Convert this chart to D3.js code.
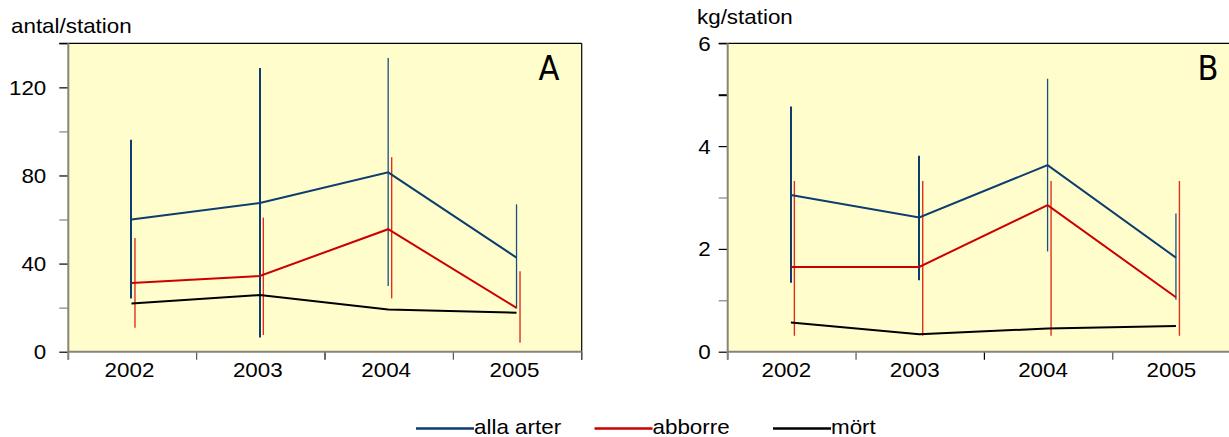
<!DOCTYPE html>
<html>
<head>
<meta charset="utf-8">
<script src="https://cdn.jsdelivr.net/npm/d3@7"></script>
<style>
  html, body { margin: 0; padding: 0; background: #fff; }
  svg { display: block; }
  text { font-family: 'Liberation Sans', Arial, Helvetica, sans-serif; fill: #000; }
  text.letter { font-family: 'DejaVu Sans Condensed', 'DejaVu Sans', sans-serif; font-stretch: condensed; }
</style>
</head>
<body>
<svg id="chart" width="1229" height="437"></svg>
<script>
// Years on the x axis
const years = ["2002", "2003", "2004", "2005"];

// Panel A – number of fish per station (mean with error range)
const allaA      = [60.0, 67.5, 81.4, 42.7];
const allaA_lo   = [24.2, 6.5, 29.8, 19.6];
const allaA_hi   = [96.2, 128.8, 133.3, 66.9];
const abborreA   = [31.2, 34.4, 55.6, 19.9];
const abborreA_lo = [10.9, 7.6, 24.2, 4.1];
const abborreA_hi = [51.6, 60.9, 88.3, 36.5];
const mortA      = [21.9, 25.7, 19.2, 17.7];
const ticksA     = [0, 20, 40, 60, 80, 100, 120, 140];
const labelsA    = [0, 40, 80, 120];

// Panel B – weight (kg) per station
const allaB      = [3.05, 2.61, 3.63, 1.83];
const allaB_lo   = [1.34, 1.39, 1.95, 1.01];
const allaB_hi   = [4.77, 3.81, 5.31, 2.69];
const abborreB   = [1.65, 1.65, 2.85, 1.06];
const abborreB_lo = [0.31, 0.31, 0.31, 0.31];
const abborreB_hi = [3.32, 3.32, 3.32, 3.32];
const mortB      = [0.57, 0.34, 0.45, 0.50];
const ticksB     = [0, 1, 2, 3, 4, 5, 6];
const labelsB    = [0, 2, 4, 6];

// Legend entries
const seriesNames = ["alla arter", "abborre", "mört"];

// Styling
const COLORS = { alla: "#0b3d70", abborre: "#cc0000", mort: "#000000" };
const BAR_RED = "#e0301c";
const BAR_BLUE_THIN = "#1a4f85";
const BG = "#fffdcc";
const AXIS_GRAY = "#85857a";
const SX = 1.12;              // horizontal stretch of the lettering
const allaBarWidths = [2, 2, 1.3, 1.3];

const svg = d3.select("#chart");

// keep 2px vertical strokes on the pixel grid
function crisp(v, w) {
  return w === 2 ? Math.round(v) : v;
}

function stretchedText(g, x, y, str, anchor, size) {
  return g.append("text")
    .attr("transform", `translate(${x},${y}) scale(${SX},1)`)
    .attr("text-anchor", anchor)
    .attr("font-size", size)
    .text(str);
}

function drawPanel(cfg) {
  const g = svg.append("g");
  const x = d3.scaleBand().domain(years).range([cfg.left, cfg.left + cfg.band * years.length]).padding(0);
  const y = d3.scaleLinear().domain([0, cfg.yMax]).range([cfg.bottom, cfg.top]);
  const right = cfg.left + cfg.band * years.length;
  const cx = d => x(d) + x.bandwidth() / 2;

  // plot background
  g.append("rect")
    .attr("x", cfg.left).attr("y", y(cfg.yMax))
    .attr("width", right - cfg.left).attr("height", y(0) - y(cfg.yMax))
    .attr("fill", BG);

  // y axis ticks and labels
  const yAxis = d3.axisLeft(y)
    .tickValues(cfg.ticks)
    .tickSize(9)
    .tickFormat(d => cfg.labels.includes(d) ? String(d) : "");
  const ya = g.append("g").attr("transform", `translate(${cfg.left},0)`).call(yAxis);
  ya.select(".domain").remove();
  ya.selectAll(".tick line")
    .attr("stroke", d => cfg.darkTicks.includes(d) ? "#000" : AXIS_GRAY)
    .attr("stroke-width", d => cfg.boldTicks.includes(d) ? 2 : 1.2);
  ya.selectAll(".tick text")
    .attr("x", null).attr("dy", null)
    .attr("transform", `translate(${cfg.labelX},7) scale(${SX},1)`)
    .attr("text-anchor", "end")
    .attr("font-size", 20)
    .attr("font-family", "'Liberation Sans', Arial, sans-serif")
    .attr("fill", "#000");

  // frame: top and right in black
  g.append("line")
    .attr("x1", cfg.left - 9).attr("x2", right)
    .attr("y1", y(cfg.yMax)).attr("y2", y(cfg.yMax))
    .attr("stroke", "#000").attr("stroke-width", 1.2);
  g.append("line")
    .attr("x1", right).attr("x2", right)
    .attr("y1", y(cfg.yMax)).attr("y2", y(0) + 8)
    .attr("stroke", "#000").attr("stroke-width", 1.2);

  // x axis ticks at the band boundaries
  const bounds = years.map(d => x(d)).concat([right]);
  g.selectAll(".xtick").data(bounds).join("line")
    .attr("class", "xtick")
    .attr("x1", d => d).attr("x2", d => d)
    .attr("y1", y(0)).attr("y2", y(0) + 8)
    .attr("stroke", (d, i) => i === 2 ? "#000" : "#555")
    .attr("stroke-width", 1.2);

  // axis lines in gray
  g.append("line")
    .attr("x1", cfg.left).attr("x2", cfg.left)
    .attr("y1", y(cfg.yMax)).attr("y2", y(0) + 8)
    .attr("stroke", AXIS_GRAY).attr("stroke-width", 2);
  g.append("line")
    .attr("x1", cfg.left).attr("x2", right)
    .attr("y1", y(0)).attr("y2", y(0))
    .attr("stroke", AXIS_GRAY).attr("stroke-width", 2);

  // year labels
  years.forEach(d => stretchedText(g, cx(d) + cfg.yearShift, 376.5, d, "middle", 20));

  // error bars: perch (red) first, all species (blue) on top
  g.selectAll(".errAbb").data(years).join("line")
    .attr("class", "errAbb")
    .attr("x1", d => cx(d) + 2.5).attr("x2", d => cx(d) + 2.5)
    .attr("y1", (d, i) => y(cfg.abbLo[i])).attr("y2", (d, i) => y(cfg.abbHi[i]))
    .attr("stroke", BAR_RED)
    .attr("stroke-width", 1.4);
  g.selectAll(".errAlla").data(years).join("line")
    .attr("class", "errAlla")
    .attr("x1", (d, i) => crisp(cx(d) - 1, allaBarWidths[i]))
    .attr("x2", (d, i) => crisp(cx(d) - 1, allaBarWidths[i]))
    .attr("y1", (d, i) => y(cfg.allaLo[i])).attr("y2", (d, i) => y(cfg.allaHi[i]))
    .attr("stroke", (d, i) => allaBarWidths[i] === 2 ? COLORS.alla : BAR_BLUE_THIN)
    .attr("stroke-width", (d, i) => allaBarWidths[i]);

  // series lines
  const line = d3.line().x((d, i) => cx(years[i]) - 1).y(d => y(d));
  [[cfg.mort, COLORS.mort], [cfg.abb, COLORS.abborre], [cfg.alla, COLORS.alla]].forEach(([vals, col]) => {
    g.append("path")
      .attr("d", line(vals))
      .attr("fill", "none")
      .attr("stroke", col)
      .attr("stroke-width", 2)
      .attr("stroke-linejoin", "miter");
  });

  // unit title and panel letter
  stretchedText(g, cfg.unitX, cfg.unitY, cfg.unit, "start", 20);
  g.append("text")
    .attr("class", "letter")
    .attr("x", cfg.letterX).attr("y", 80)
    .attr("text-anchor", "middle")
    .attr("font-size", 34)
    .attr("fill", "#222")
    .text(cfg.letter);
}

drawPanel({
  left: 68.3, band: 128.35, top: 43.3, bottom: 351.7, yMax: 140,
  ticks: ticksA, labels: labelsA, darkTicks: [0, 40, 80, 120, 140], boldTicks: [],
  labelX: -22, yearShift: -3,
  alla: allaA, allaLo: allaA_lo, allaHi: allaA_hi,
  abb: abborreA, abbLo: abborreA_lo, abbHi: abborreA_hi,
  mort: mortA,
  unit: "antal/station", unitX: 11, unitY: 33,
  letter: "A", letterX: 549
});

drawPanel({
  left: 727.7, band: 128.35, top: 43.3, bottom: 351.7, yMax: 6,
  ticks: ticksB, labels: labelsB, darkTicks: [0, 2, 4, 5, 6], boldTicks: [5],
  labelX: -17, yearShift: -5.5,
  alla: allaB, allaLo: allaB_lo, allaHi: allaB_hi,
  abb: abborreB, abbLo: abborreB_lo, abbHi: abborreB_hi,
  mort: mortB,
  unit: "kg/station", unitX: 697, unitY: 24,
  letter: "B", letterX: 1208
});

// legend
const legend = svg.append("g");
const legendX = d3.scalePoint().domain(seriesNames).range([416, 773]);
const legendColors = d3.scaleOrdinal().domain(seriesNames).range([COLORS.alla, COLORS.abborre, COLORS.mort]);
seriesNames.forEach(name => {
  const x0 = legendX(name);
  legend.append("line")
    .attr("x1", x0).attr("x2", x0 + 58)
    .attr("y1", 428.5).attr("y2", 428.5)
    .attr("stroke", legendColors(name))
    .attr("stroke-width", 2.6);
  stretchedText(legend, x0 + 58, 433.5, name, "start", 20);
});
</script>
</body>
</html>
